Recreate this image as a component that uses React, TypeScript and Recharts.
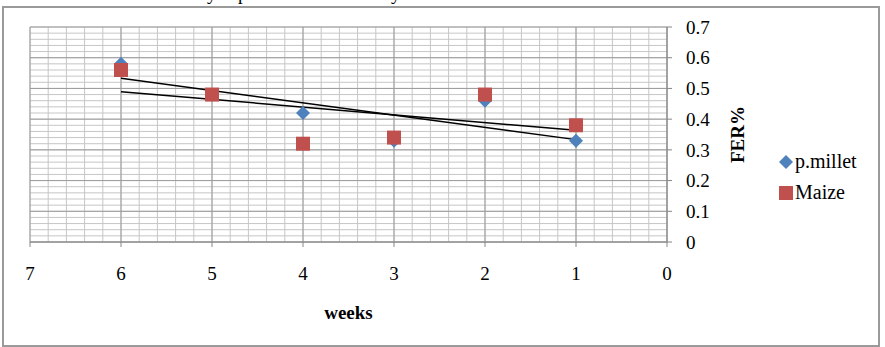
import React from 'react';
import {
    ScatterChart, Scatter, XAxis, YAxis, CartesianGrid, ReferenceLine,
} from 'recharts';

const weeks = [6, 5, 4, 3, 2, 1];
const pMillet = [0.58, 0.48, 0.42, 0.33, 0.46, 0.33];
const maize = [0.56, 0.48, 0.32, 0.34, 0.48, 0.38];

const xTicks = [0, 1, 2, 3, 4, 5, 6, 7];
const yTicks = [0, 0.1, 0.2, 0.3, 0.4, 0.5, 0.6, 0.7];

// minor gridlines, 5 per major step
const xMinor = Array.from({ length: 36 }, (_, i) => +(i * 0.2).toFixed(2));
const yMinor = Array.from({ length: 36 }, (_, i) => +(i * 0.02).toFixed(2));

const FONT = "'Liberation Serif', 'Times New Roman', serif";

const milletData = weeks.map((w, i) => ({ x: w, y: pMillet[i] }));
const maizeData = weeks.map((w, i) => ({ x: w, y: maize[i] }));

// linear trendline (least squares) over the plotted weeks
const trend = (ys: number[]) => {
    const n = weeks.length;
    const mx = weeks.reduce((a, b) => a + b, 0) / n;
    const my = ys.reduce((a, b) => a + b, 0) / n;
    let sxy = 0, sxx = 0;
    weeks.forEach((w, i) => { sxy += (w - mx) * (ys[i] - my); sxx += (w - mx) * (w - mx); });
    const b = sxy / sxx;
    const x0 = Math.max(...weeks), x1 = Math.min(...weeks);
    return [{ x: x0, y: my + b * (x0 - mx) }, { x: x1, y: my + b * (x1 - mx) }];
};

const Diamond = (props: any) => {
    const { cx, cy, fill } = props;
    const r = 7;
    return <polygon points={`${cx},${cy - r} ${cx + r},${cy} ${cx},${cy + r} ${cx - r},${cy}`} fill={fill} />;
};

const Square = (props: any) => {
    const { cx, cy, fill } = props;
    const s = 14;
    return <rect x={cx - s / 2} y={cy - s / 2} width={s} height={s} fill={fill} />;
};

const LegendBox = () => (
    <div style={{ position: 'absolute', left: 779, top: 146, fontFamily: FONT, fontSize: 20, color: '#000', lineHeight: '31px' }}>
        <div style={{ display: 'flex', alignItems: 'center' }}>
            <svg width={16} height={14}><polygon points="7,0 14,7 7,14 0,7" fill="#4F81BD" /></svg>
            <span>p.millet</span>
        </div>
        <div style={{ display: 'flex', alignItems: 'center' }}>
            <svg width={16} height={14}><rect x={0} y={0} width={14} height={14} fill="#C0504D" /></svg>
            <span>Maize</span>
        </div>
    </div>
);

const tickStyle = { fontFamily: FONT, fontSize: 19, fill: '#000' };

export default function App() {
    return (
        <div style={{ position: 'absolute', left: 0, top: 0, width: 885, height: 347, background: '#fff' }}>
            <div style={{ position: 'absolute', left: 2, top: 6, width: 874, height: 337, border: '2px solid #9a9a9a' }} />
            <svg style={{ position: 'absolute', left: 0, top: 0 }} width={885} height={8}>
                <text y={0} fontFamily={FONT} fontSize={19} fill="#000">
                    <tspan x={207}>y</tspan>
                    <tspan x={238}>p</tspan>
                    <tspan x={391}>y</tspan>
                </text>
            </svg>
            <div style={{ position: 'absolute', left: 0, top: 0 }}>
                <ScatterChart width={885} height={347} margin={{ top: 27, right: 138, bottom: 0, left: 30 }}>
                    <CartesianGrid
                        stroke="#c6c6c6"
                        strokeWidth={1}
                        verticalValues={xMinor}
                        horizontalValues={yMinor}
                    />
                    {xTicks.map((v) => (
                        <ReferenceLine key={`vx-${v}`} x={v} stroke="#9c9c9c" strokeWidth={1} />
                    ))}
                    {yTicks.map((v) => (
                        <ReferenceLine key={`hy-${v}`} y={v} stroke="#9c9c9c" strokeWidth={1} />
                    ))}
                    <XAxis
                        type="number"
                        dataKey="x"
                        domain={[0, 7]}
                        ticks={xTicks}
                        interval={0}
                        reversed
                        height={105}
                        axisLine={{ stroke: '#868686' }}
                        tickLine={{ stroke: '#868686' }}
                        tickSize={5}
                        tickMargin={20}
                        tick={tickStyle}
                        label={{ value: 'weeks', position: 'insideBottom', offset: 28, style: { fontFamily: FONT, fontSize: 19, fontWeight: 'bold', fill: '#000' } }}
                    />
                    <YAxis
                        type="number"
                        dataKey="y"
                        orientation="right"
                        domain={[0, 0.7]}
                        ticks={yTicks}
                        interval={0}
                        width={80}
                        axisLine={{ stroke: '#868686' }}
                        tickLine={{ stroke: '#868686' }}
                        tickSize={5}
                        tickMargin={14}
                        tick={{ ...tickStyle, textAnchor: 'start' }}
                        label={{ value: 'FER%', angle: -90, position: 'center', dx: 30, style: { fontFamily: FONT, fontSize: 19, fontWeight: 'bold', fill: '#000' } }}
                    />
                    <Scatter name="p.millet" data={milletData} fill="#4F81BD" shape={Diamond} isAnimationActive={false} />
                    <Scatter name="Maize" data={maizeData} fill="#C0504D" shape={Square} isAnimationActive={false} />
                    <ReferenceLine segment={trend(pMillet)} stroke="#000" strokeWidth={1.5} />
                    <ReferenceLine segment={trend(maize)} stroke="#000" strokeWidth={1.5} />
                </ScatterChart>
            </div>
            <LegendBox />
        </div>
    );
}
